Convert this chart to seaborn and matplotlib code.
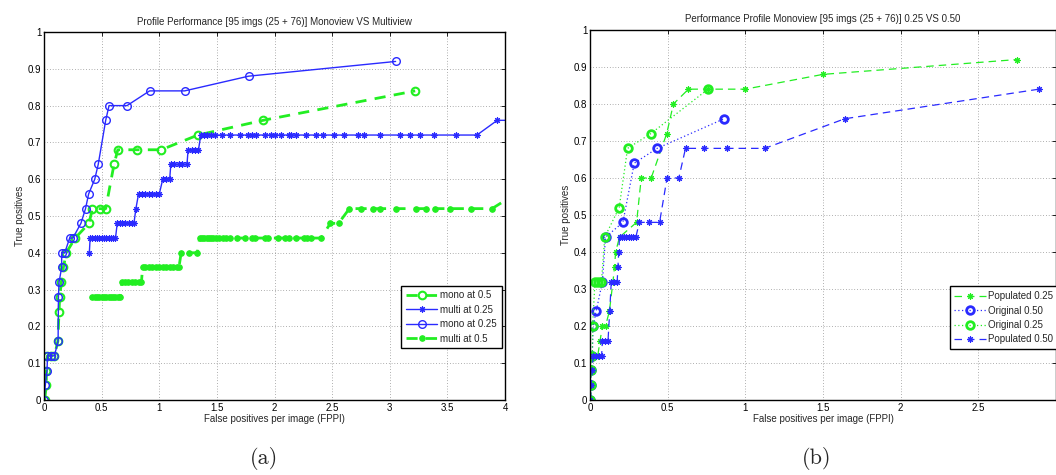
import numpy as np
import pandas as pd
import matplotlib
matplotlib.use("Agg")
import matplotlib.pyplot as plt
import seaborn as sns

# ---------------- data: panel (a) ----------------
mono05_x = [0.005, 0.02, 0.02, 0.03, 0.06, 0.09, 0.12, 0.13, 0.136, 0.15, 0.168, 0.193,
            0.27, 0.39, 0.42, 0.484, 0.535, 0.607, 0.64, 0.806, 1.017, 1.335, 1.90, 3.22]
mono05_y = [0.0, 0.04, 0.08, 0.12, 0.12, 0.12, 0.16, 0.24, 0.28, 0.32, 0.36, 0.40,
            0.44, 0.48, 0.52, 0.52, 0.52, 0.64, 0.68, 0.68, 0.68, 0.72, 0.76, 0.84]

multi025_x = [0.393, 0.40, 0.42, 0.44, 0.46, 0.48, 0.50, 0.52, 0.54, 0.56, 0.58, 0.60, 0.62,
              0.635, 0.66, 0.68, 0.70, 0.74, 0.76, 0.78,
              0.797,
              0.82, 0.85, 0.88, 0.91, 0.94, 0.97, 1.0,
              1.03, 1.06, 1.09,
              1.10, 1.13, 1.17, 1.20, 1.24,
              1.25, 1.28, 1.31, 1.34,
              1.36, 1.387, 1.416, 1.445, 1.48, 1.54, 1.61, 1.70, 1.77, 1.80, 1.843, 1.915,
              1.97, 2.0, 2.057, 2.128, 2.142, 2.185, 2.27, 2.356, 2.418, 2.512, 2.606,
              2.726, 2.777, 2.916, 3.09, 3.175, 3.26, 3.386, 3.574, 3.756,
              3.932, 4.2]
multi025_y = ([0.40] + [0.44] * 12 + [0.48] * 7 + [0.52] + [0.56] * 7 + [0.60] * 3 +
              [0.64] * 5 + [0.68] * 4 + [0.72] * 32 + [0.76, 0.76])

mono025_x = [0.0, 0.011, 0.026, 0.03, 0.06, 0.09, 0.122, 0.125, 0.13, 0.153, 0.153, 0.18,
             0.222, 0.25, 0.32, 0.36, 0.387, 0.44, 0.47, 0.535, 0.564, 0.72, 0.916, 1.22,
             1.775, 3.05]
mono025_y = [0.0, 0.04, 0.08, 0.12, 0.12, 0.12, 0.16, 0.28, 0.32, 0.36, 0.40, 0.40,
             0.44, 0.44, 0.48, 0.52, 0.56, 0.60, 0.64, 0.76, 0.80, 0.80, 0.84, 0.84,
             0.88, 0.92]

multi05_x = ([0.42, 0.44, 0.46, 0.48, 0.50, 0.52, 0.54, 0.56, 0.58, 0.60, 0.62, 0.64, 0.66] +
             [0.675, 0.70, 0.73, 0.76, 0.79, 0.82, 0.845] +
             [0.855, 0.88, 0.91, 0.94, 0.97, 1.0, 1.03, 1.06, 1.09, 1.12, 1.15, 1.17] +
             [1.19, 1.26, 1.33] +
             [1.35, 1.37, 1.39, 1.41, 1.43, 1.45, 1.47, 1.49, 1.52, 1.55, 1.58, 1.61, 1.67,
              1.74, 1.80, 1.83, 1.915, 1.943, 2.03, 2.094, 2.122, 2.19, 2.256, 2.28, 2.32,
              2.404] +
             [2.484, 2.555] +
             [2.649, 2.746, 2.854, 2.916, 3.053, 3.224, 3.315, 3.394, 3.522, 3.707, 3.887] +
             [4.09])
multi05_y = ([0.28] * 13 + [0.32] * 7 + [0.36] * 12 + [0.40] * 3 + [0.44] * 26 +
             [0.48] * 2 + [0.52] * 11 + [0.56])

# ---------------- data: panel (b) ----------------
pop025_x = [0.003, 0.008, 0.012, 0.02, 0.05, 0.065, 0.08, 0.10, 0.125, 0.148, 0.158, 0.165,
            0.19, 0.30, 0.33, 0.394, 0.494, 0.537, 0.634, 0.76, 1.0, 1.5, 2.746]
pop025_y = [0.0, 0.04, 0.08, 0.12, 0.12, 0.16, 0.20, 0.20, 0.24, 0.32, 0.36, 0.40,
            0.44, 0.48, 0.60, 0.60, 0.72, 0.80, 0.84, 0.84, 0.84, 0.88, 0.92]

orig050_x = [0.0, 0.005, 0.008, 0.015, 0.02, 0.04, 0.08, 0.10, 0.212, 0.285, 0.432, 0.863]
orig050_y = [0.0, 0.04, 0.08, 0.12, 0.20, 0.24, 0.32, 0.44, 0.48, 0.64, 0.68, 0.76]

orig025_x = [0.0, 0.005, 0.006, 0.015, 0.017, 0.032, 0.053, 0.074, 0.095, 0.188, 0.242,
             0.392, 0.76]
orig025_y = [0.0, 0.04, 0.08, 0.12, 0.20, 0.32, 0.32, 0.32, 0.44, 0.52, 0.68, 0.72, 0.84]

pop050_x = [0.003, 0.008, 0.015, 0.02, 0.04, 0.06, 0.075, 0.08, 0.098, 0.116, 0.127,
            0.137, 0.155, 0.175, 0.18, 0.185,
            0.19, 0.205, 0.22, 0.235, 0.25, 0.265, 0.28, 0.295,
            0.318, 0.383, 0.448, 0.496, 0.572, 0.615, 0.733, 0.884, 1.125, 1.64, 2.89]
pop050_y = ([0.0, 0.04, 0.08, 0.12, 0.12, 0.12, 0.12, 0.16, 0.16, 0.16, 0.24,
             0.32, 0.32, 0.32, 0.36, 0.40] + [0.44] * 8 +
            [0.48, 0.48, 0.48, 0.60, 0.60, 0.68, 0.68, 0.68, 0.68, 0.76, 0.84])

yticks = [0, 0.1, 0.2, 0.3, 0.4, 0.5, 0.6, 0.7, 0.8, 0.9, 1]
ytick_labels = ["0", "0.1", "0.2", "0.3", "0.4", "0.5", "0.6", "0.7", "0.8", "0.9", "1"]
xticks_a = [0, 0.5, 1, 1.5, 2, 2.5, 3, 3.5, 4]
xtick_labels_a = ["0", "0.5", "1", "1.5", "2", "2.5", "3", "3.5", "4"]
xticks_b = [0, 0.5, 1, 1.5, 2, 2.5, 3]
xtick_labels_b = ["0", "0.5", "1", "1.5", "2", "2.5", ""]

title_a = "Profile Performance [95 imgs (25 + 76)] Monoview VS Multiview"
title_b = "Performance Profile Monoview [95 imgs (25 + 76)] 0.25 VS 0.50"
xlabel = "False positives per image (FPPI)"
ylabel = "True positives"

# ---------------- style ----------------
sns.set_theme(style="white")
plt.rcParams["font.family"] = ["Liberation Sans", "DejaVu Sans"]
FS = 7

GREEN = "#22ee22"
BLUE = "#2a2aff"
STAR = (8, 2, 0)

fig = plt.figure(figsize=(10.56, 4.75), dpi=100)
ax1 = fig.add_axes([0.0417, 0.158, 0.4366, 0.7746])
ax2 = fig.add_axes([0.5587, 0.158, 0.4413, 0.7789])


def style_axes(ax, xlim, xt, xtl):
    ax.set_xlim(*xlim)
    ax.set_ylim(0, 1)
    ax.set_xticks(xt)
    ax.set_xticklabels(xtl, fontsize=FS)
    ax.set_yticks(yticks)
    ax.set_yticklabels(ytick_labels, fontsize=FS)
    ax.tick_params(direction="in", top=True, right=True, length=3, width=0.6,
                   pad=2, colors="black")
    ax.grid(True, color="0.4", linestyle=(0, (1, 3)), linewidth=0.5)
    for sp in ax.spines.values():
        sp.set_color("black")
        sp.set_linewidth(1.0)
    ax.set_xlabel(xlabel, fontsize=FS, labelpad=1)
    ax.set_ylabel(ylabel, fontsize=FS, labelpad=2)


def line(ax, x, y, **kw):
    df = pd.DataFrame({"x": x, "y": y})
    sns.lineplot(data=df, x="x", y="y", ax=ax, estimator=None, sort=False, **kw)


# panel (a)
line(ax1, mono05_x, mono05_y, color=GREEN, linestyle=(0, (4, 3)), linewidth=2,
     marker="o", markersize=5.5, markerfacecolor="none", markeredgecolor=GREEN,
     markeredgewidth=1.5, label="mono at 0.5")
line(ax1, multi025_x, multi025_y, color=BLUE, linestyle="-", linewidth=1,
     marker=STAR, markersize=4.5, markeredgecolor=BLUE, markeredgewidth=0.8,
     label="multi at 0.25")
line(ax1, mono025_x, mono025_y, color=BLUE, linestyle="-", linewidth=1,
     marker="o", markersize=5.5, markerfacecolor="none", markeredgecolor=BLUE,
     markeredgewidth=1.0, label="mono at 0.25")
line(ax1, multi05_x, multi05_y, color=GREEN, linestyle=(0, (4, 3)), linewidth=2,
     marker="o", markersize=4, markerfacecolor=GREEN, markeredgecolor=GREEN,
     label="multi at 0.5")
style_axes(ax1, (0, 4), xticks_a, xtick_labels_a)
ax1.set_title(title_a, fontsize=FS, pad=5)
leg1 = ax1.legend(loc="lower right", bbox_to_anchor=(0.993, 0.14), fontsize=FS,
                  frameon=True, fancybox=False, edgecolor="black", framealpha=1,
                  handlelength=3.2, labelspacing=0.45, borderpad=0.5,
                  handletextpad=0.3, borderaxespad=0)
leg1.get_frame().set_linewidth(1.0)

# panel (b)
line(ax2, pop025_x, pop025_y, color=GREEN, linestyle=(0, (6, 4)), linewidth=0.9,
     marker=STAR, markersize=4.5, markeredgecolor=GREEN, markeredgewidth=0.8,
     label="Populated 0.25")
line(ax2, orig050_x, orig050_y, color=BLUE, linestyle=(0, (1, 2)), linewidth=0.9,
     marker="o", markersize=5.5, markerfacecolor="none", markeredgecolor=BLUE,
     markeredgewidth=2.0, label="Original 0.50")
line(ax2, orig025_x, orig025_y, color=GREEN, linestyle=(0, (1, 2)), linewidth=0.9,
     marker="o", markersize=5.5, markerfacecolor="none", markeredgecolor=GREEN,
     markeredgewidth=2.0, label="Original 0.25")
line(ax2, pop050_x, pop050_y, color=BLUE, linestyle=(0, (6, 4)), linewidth=0.9,
     marker=STAR, markersize=4.5, markeredgecolor=BLUE, markeredgewidth=0.8,
     label="Populated 0.50")
style_axes(ax2, (0, 3), xticks_b, xtick_labels_b)
ax2.set_title(title_b, fontsize=FS, pad=6)
leg2 = ax2.legend(loc="lower right", bbox_to_anchor=(1.005, 0.137), fontsize=FS,
                  frameon=True, fancybox=False, edgecolor="black", framealpha=1,
                  handlelength=3.2, labelspacing=0.45, borderpad=0.5,
                  handletextpad=0.3, borderaxespad=0)
leg2.get_frame().set_linewidth(1.0)

# captions
fig.text(0.25, 0.035, "(a)", family="cmr10", fontsize=16, ha="center", va="center")
fig.text(0.773, 0.035, "(b)", family="cmr10", fontsize=16, ha="center", va="center")

fig.savefig("out.png", dpi=100)
